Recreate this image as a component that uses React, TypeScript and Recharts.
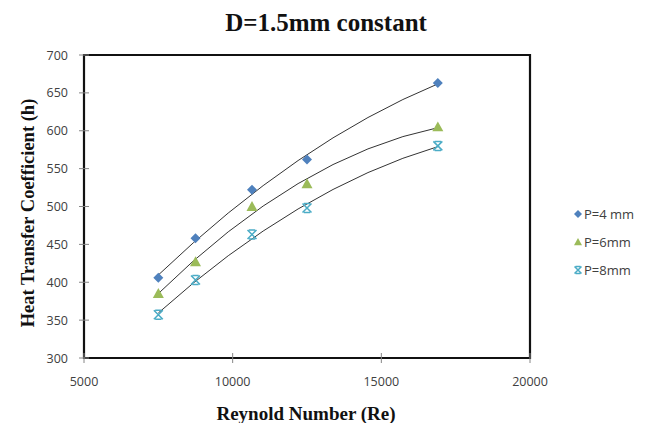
import { ComposedChart, Line, ReferenceArea, Scatter, XAxis, YAxis } from "recharts";

// values
const reynolds = [7500, 8750, 10650, 12500, 16900];
const hP4 = [406, 458, 522, 562, 663];
const hP6 = [385, 427, 500, 530, 605];
const hP8 = [357, 403, 463, 498, 580];

const xTicks = [5000, 10000, 15000, 20000];
const yTicks = [300, 350, 400, 450, 500, 550, 600, 650, 700];

const BLUE = "#4F81BD";
const GREEN = "#9BBB59";
const CYAN = "#4BACC6";
const TICK = "#868686";
const LABEL = "#404040";

const points = (ys: number[]) => reynolds.map((re, i) => ({ re, h: ys[i] }));

// least squares y = b0 + b1 x + b2 x^2
function quadFit(pts: [number, number][]) {
  const s = [0, 0, 0, 0, 0];
  const t = [0, 0, 0];
  pts.forEach(([x, y]) => {
    for (let k = 0; k < 5; k++) s[k] += x ** k;
    for (let k = 0; k < 3; k++) t[k] += y * x ** k;
  });
  const m = [
    [s[0], s[1], s[2], t[0]],
    [s[1], s[2], s[3], t[1]],
    [s[2], s[3], s[4], t[2]],
  ];
  for (let c = 0; c < 3; c++) {
    for (let r = c + 1; r < 3; r++) {
      const f = m[r][c] / m[c][c];
      for (let k = c; k < 4; k++) m[r][k] -= f * m[c][k];
    }
  }
  const b = [0, 0, 0];
  for (let r = 2; r >= 0; r--) {
    let v = m[r][3];
    for (let k = r + 1; k < 3; k++) v -= m[r][k] * b[k];
    b[r] = v / m[r][r];
  }
  return b;
}

// curve factory: draws the 2nd order polynomial trendline (as in Excel) through the series points
const polyTrend = (context: any) => {
  let pts: [number, number][] = [];
  return {
    areaStart() {},
    areaEnd() {},
    lineStart() {
      pts = [];
    },
    point(x: number, y: number) {
      pts.push([x, y]);
    },
    lineEnd() {
      if (pts.length < 3) return;
      const ox = pts[0][0];
      const [b0, b1, b2] = quadFit(pts.map(([x, y]) => [x - ox, y] as [number, number]));
      const x1 = pts[pts.length - 1][0] - ox;
      const f = (x: number) => b0 + b1 * x + b2 * x * x;
      const cy = b0 + b1 * (x1 / 2);
      context.moveTo(ox, f(0));
      context.quadraticCurveTo(ox + x1 / 2, cy, ox + x1, f(x1));
    },
  };
};

const Diamond = ({ cx, cy, r = 5 }: any) => (
  <path d={`M${cx},${cy - r}L${cx + r},${cy}L${cx},${cy + r}L${cx - r},${cy}Z`} fill={BLUE} />
);

const Triangle = ({ cx, cy, r = 5.5 }: any) => (
  <path d={`M${cx},${cy - r}L${cx + r},${cy + r * 0.8}L${cx - r},${cy + r * 0.8}Z`} fill={GREEN} />
);

const Cross = ({ cx, cy, r = 4.5 }: any) => (
  <path
    d={`M${cx - r},${cy - r}L${cx + r},${cy + r}M${cx + r},${cy - r}L${cx - r},${cy + r}M${cx - r * 0.7},${cy - r}L${cx + r * 0.7},${cy - r}M${cx - r * 0.7},${cy + r}L${cx + r * 0.7},${cy + r}`}
    stroke={CYAN}
    strokeWidth={1.5}
    fill="none"
  />
);

const tickFont = { fontFamily: "'Open Sans', sans-serif", fontSize: 12.5, fill: LABEL };

const XTick = ({ x, y, payload }: any) => (
  <g>
    <line x1={x} x2={x} y1={y - 5} y2={y + 5} stroke={TICK} />
    <text x={x} y={y + 28} textAnchor="middle" {...tickFont}>
      {payload.value}
    </text>
  </g>
);

const YTick = ({ x, y, payload }: any) => (
  <g>
    <line x1={x - 5} x2={x + 5} y1={y} y2={y} stroke={TICK} />
    <text x={x - 16} y={y + 4.5} textAnchor="end" {...tickFont}>
      {payload.value}
    </text>
  </g>
);

const legendItems = [
  { name: "P=4 mm", Shape: Diamond },
  { name: "P=6mm", Shape: Triangle },
  { name: "P=8mm", Shape: Cross },
];

const serif = "'Liberation Serif', 'Times New Roman', serif";

export default function App() {
  return (
    <div style={{ position: "absolute", left: 0, top: 0, width: 651, height: 423, background: "#fff" }}>
      <ComposedChart
        width={651}
        height={423}
        margin={{ top: 55, right: 121, bottom: 35, left: 0 }}
      >
        <XAxis
          type="number"
          dataKey="re"
          domain={[5000, 20000]}
          ticks={xTicks}
          axisLine={false}
          tickLine={false}
          tickSize={0}
          tickMargin={0}
          height={30}
          tick={<XTick />}
          allowDataOverflow
        />
        <YAxis
          type="number"
          dataKey="h"
          domain={[300, 700]}
          ticks={yTicks}
          axisLine={false}
          tickLine={false}
          tickSize={0}
          tickMargin={0}
          width={84}
          tick={<YTick />}
          allowDataOverflow
        />
        <ReferenceArea
          x1={5000}
          x2={20000}
          y1={300}
          y2={700}
          fill="none"
          stroke="#111"
          strokeWidth={2.2}
          ifOverflow="visible"
        />
        <Line data={points(hP4)} dataKey="h" type={polyTrend as any} dot={false} stroke="#333" strokeWidth={1} isAnimationActive={false} />
        <Line data={points(hP6)} dataKey="h" type={polyTrend as any} dot={false} stroke="#333" strokeWidth={1} isAnimationActive={false} />
        <Line data={points(hP8)} dataKey="h" type={polyTrend as any} dot={false} stroke="#333" strokeWidth={1} isAnimationActive={false} />
        <Scatter name="P=4 mm" data={points(hP4)} shape={<Diamond />} isAnimationActive={false} />
        <Scatter name="P=6mm" data={points(hP6)} shape={<Triangle />} isAnimationActive={false} />
        <Scatter name="P=8mm" data={points(hP8)} shape={<Cross />} isAnimationActive={false} />
      </ComposedChart>
      <svg width={651} height={423} style={{ position: "absolute", left: 0, top: 0, pointerEvents: "none" }}>
        <text x={326} y={31} textAnchor="middle" fontFamily={serif} fontWeight="bold" fontSize={25} fill="#111">
          D=1.5mm constant
        </text>
        <text x={306} y={420} textAnchor="middle" fontFamily={serif} fontWeight="bold" fontSize={19} fill="#111">
          Reynold Number (Re)
        </text>
        <text
          x={34}
          y={213}
          transform="rotate(-90 34 213)"
          textAnchor="middle"
          fontFamily={serif}
          fontWeight="bold"
          fontSize={18.5}
          fill="#111"
        >
          Heat Transfer Coefficient (h)
        </text>
        {legendItems.map(({ name, Shape }, i) => (
          <g key={name}>
            <Shape cx={578} cy={214 + i * 28} r={i === 2 ? 3.5 : 4} />
            <text x={584} y={214 + i * 28 + 4.5} fontFamily="'Open Sans', sans-serif" fontSize={13} fill={LABEL}>
              {name}
            </text>
          </g>
        ))}
      </svg>
    </div>
  );
}
